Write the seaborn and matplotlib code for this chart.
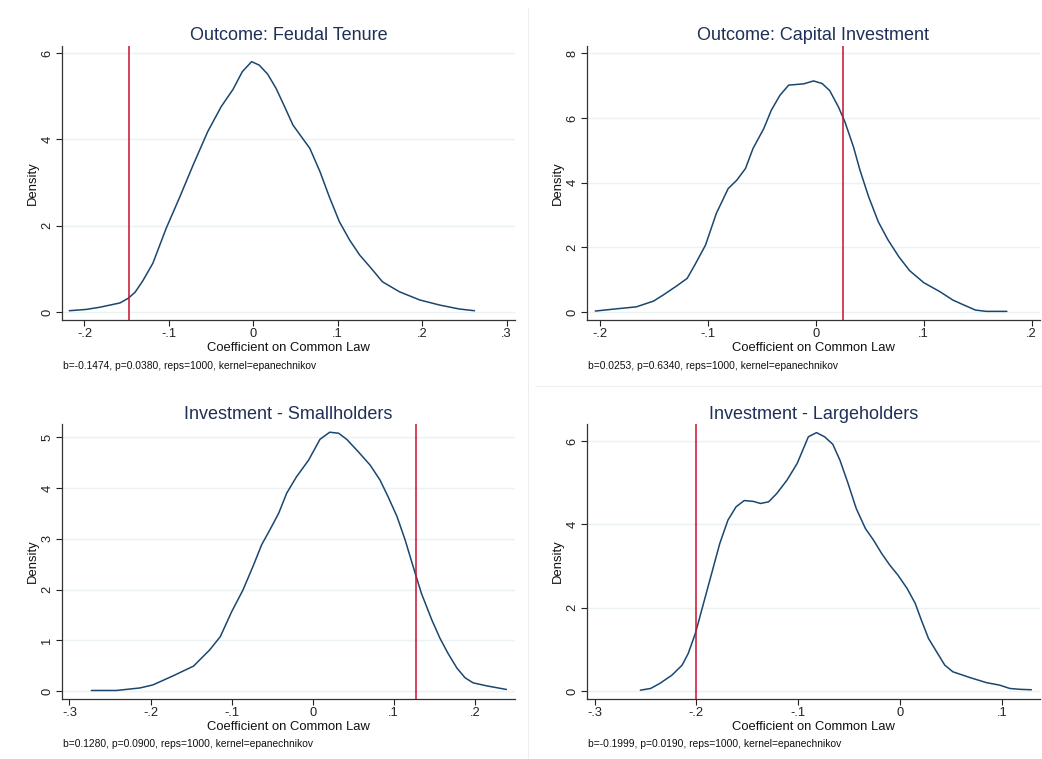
import matplotlib
matplotlib.use("Agg")
import matplotlib.pyplot as plt
from matplotlib.lines import Line2D
import seaborn as sns
import pandas as pd

sns.set_style("ticks")
plt.rcParams['font.family'] = ['Liberation Sans', 'DejaVu Sans']

titles = ["Outcome: Feudal Tenure", "Outcome: Capital Investment",
          "Investment - Smallholders", "Investment - Largeholders"]
notes = ["b=-0.1474, p=0.0380, reps=1000, kernel=epanechnikov",
         "b=0.0253, p=0.6340, reps=1000, kernel=epanechnikov",
         "b=0.1280, p=0.0900, reps=1000, kernel=epanechnikov",
         "b=-0.1999, p=0.0190, reps=1000, kernel=epanechnikov"]
b_values = [-0.1474, 0.0253, 0.1280, -0.1999]

x1 = [-0.218, -0.198, -0.182, -0.158, -0.148, -0.140, -0.131, -0.119, -0.103, -0.087,
      -0.071, -0.054, -0.038, -0.024, -0.013, -0.002, 0.007, 0.017, 0.027, 0.037,
      0.047, 0.057, 0.067, 0.079, 0.090, 0.102, 0.114, 0.126, 0.138, 0.153,
      0.173, 0.197, 0.221, 0.244, 0.262]
y1 = [0.03, 0.06, 0.11, 0.21, 0.32, 0.46, 0.72, 1.13, 1.95, 2.67,
      3.42, 4.18, 4.76, 5.16, 5.57, 5.80, 5.72, 5.51, 5.18, 4.76,
      4.33, 4.06, 3.79, 3.25, 2.67, 2.09, 1.67, 1.32, 1.05, 0.70,
      0.47, 0.28, 0.16, 0.07, 0.03]

x2 = [-0.204, -0.187, -0.166, -0.150, -0.141, -0.129, -0.119, -0.112, -0.102, -0.092,
      -0.081, -0.073, -0.065, -0.058, -0.048, -0.041, -0.033, -0.025, -0.011, -0.002,
      0.006, 0.013, 0.021, 0.027, 0.035, 0.041, 0.049, 0.058, 0.067, 0.077,
      0.087, 0.100, 0.115, 0.127, 0.137, 0.148, 0.158, 0.177]
y2 = [0.03, 0.09, 0.16, 0.34, 0.53, 0.80, 1.04, 1.45, 2.07, 3.05,
      3.82, 4.08, 4.44, 5.06, 5.68, 6.25, 6.71, 7.02, 7.06, 7.15,
      7.07, 6.85, 6.35, 5.89, 5.11, 4.39, 3.57, 2.79, 2.23, 1.71,
      1.28, 0.91, 0.63, 0.37, 0.22, 0.06, 0.02, 0.02]

x3 = [-0.273, -0.242, -0.213, -0.197, -0.172, -0.147, -0.127, -0.114, -0.100, -0.086,
      -0.073, -0.063, -0.053, -0.042, -0.032, -0.020, -0.005, 0.009, 0.021, 0.032,
      0.042, 0.056, 0.071, 0.083, 0.093, 0.104, 0.114, 0.124, 0.134, 0.147,
      0.157, 0.167, 0.178, 0.188, 0.198, 0.215, 0.239]
y3 = [0.01, 0.01, 0.06, 0.12, 0.30, 0.49, 0.81, 1.07, 1.56, 1.99,
      2.48, 2.88, 3.17, 3.50, 3.90, 4.22, 4.55, 4.96, 5.10, 5.08,
      4.96, 4.72, 4.45, 4.16, 3.83, 3.44, 2.98, 2.45, 1.93, 1.40,
      1.04, 0.74, 0.45, 0.26, 0.16, 0.10, 0.03]

x4 = [-0.255, -0.245, -0.236, -0.224, -0.214, -0.208, -0.201, -0.193, -0.185, -0.177,
      -0.169, -0.161, -0.153, -0.144, -0.137, -0.129, -0.121, -0.111, -0.101, -0.090,
      -0.082, -0.074, -0.066, -0.059, -0.051, -0.043, -0.034, -0.026, -0.018, -0.010,
      -0.002, 0.007, 0.015, 0.021, 0.028, 0.036, 0.044, 0.052, 0.069, 0.085,
      0.098, 0.108, 0.118, 0.129]
y4 = [0.02, 0.06, 0.18, 0.38, 0.62, 0.90, 1.38, 2.10, 2.82, 3.54,
      4.10, 4.42, 4.57, 4.55, 4.50, 4.54, 4.74, 5.06, 5.46, 6.10,
      6.20, 6.10, 5.92, 5.54, 4.98, 4.38, 3.90, 3.62, 3.30, 3.02,
      2.78, 2.46, 2.10, 1.70, 1.26, 0.94, 0.62, 0.46, 0.32, 0.20,
      0.14, 0.06, 0.04, 0.03]

xs = [x1, x2, x3, x4]
ys = [y1, y2, y3, y4]

xticks = [[-0.2, -0.1, 0, 0.1, 0.2, 0.3],
          [-0.2, -0.1, 0, 0.1, 0.2],
          [-0.3, -0.2, -0.1, 0, 0.1, 0.2],
          [-0.3, -0.2, -0.1, 0, 0.1]]
xticklabels = [["-.2", "-.1", "0", ".1", ".2", ".3"],
               ["-.2", "-.1", "0", ".1", ".2"],
               ["-.3", "-.2", "-.1", "0", ".1", ".2"],
               ["-.3", "-.2", "-.1", "0", ".1"]]
yticks = [[0, 2, 4, 6], [0, 2, 4, 6, 8], [0, 1, 2, 3, 4, 5], [0, 2, 4, 6]]
xlims = [(-0.227, 0.31), (-0.212, 0.2077), (-0.3096, 0.2496), (-0.3077, 0.1375)]
ylims = [(-0.185, 6.17), (-0.247, 8.24), (-0.158, 5.256), (-0.192, 6.40)]

W, H = 1042, 759
fig = plt.figure(figsize=(W / 100, H / 100), dpi=100)
fig.patch.set_facecolor("white")

# axes rectangles in pixels (left, top, right, bottom)
rects = [(61.7, 45.7, 515, 320), (586.7, 45.7, 1040, 320),
         (61.7, 424.3, 515, 699), (586.7, 424.3, 1040, 699)]
note_pos = [(63, 366), (588, 366), (63, 744), (588, 744)]

# faint panel separators
fig.add_artist(Line2D([528 / W, 528 / W], [0, 1 - 8 / H], color="#eeeeee", lw=0.8))
fig.add_artist(Line2D([535 / W, 1], [1 - 386 / H, 1 - 386 / H], color="#eeeeee", lw=0.8))

navy = "#1a476f"
red = "#c8102e"
title_col = "#1f2f57"

for i in range(4):
    l, t, r, b = rects[i]
    ax = fig.add_axes([l / W, 1 - b / H, (r - l) / W, (b - t) / H])
    df = pd.DataFrame({"x": xs[i], "y": ys[i]})
    sns.lineplot(data=df, x="x", y="y", ax=ax, color=navy, lw=1.1, sort=False,
                 estimator=None)
    ax.axvline(b_values[i], color=red, lw=1.1, zorder=3)
    ax.set_xlim(*xlims[i])
    ax.set_ylim(*ylims[i])
    ax.set_xticks(xticks[i])
    ax.set_xticklabels(xticklabels[i])
    ax.set_yticks(yticks[i])
    ax.set_yticklabels([str(v) for v in yticks[i]], rotation=90, va="center")
    ax.grid(axis="y", color="#eaf2f3", lw=1.0)
    ax.set_axisbelow(True)
    for s in ["top", "right"]:
        ax.spines[s].set_visible(False)
    for s in ["left", "bottom"]:
        ax.spines[s].set_color("#333333")
        ax.spines[s].set_linewidth(0.9)
    ax.tick_params(axis="both", labelsize=9.3, colors="#222222", length=4, width=0.8, pad=2)
    ax.set_xlabel("Coefficient on Common Law", fontsize=9.4, labelpad=1, color="#111111")
    ax.set_ylabel("Density", fontsize=9.4, labelpad=2, color="#111111")
    ax.set_title(titles[i], fontsize=13, color=title_col, pad=4)
    nx, ny = note_pos[i]
    fig.text(nx / W, 1 - ny / H, notes[i], fontsize=7.4, color="#111111", va="center", ha="left")

fig.savefig("out.png", dpi=100, facecolor="white")
